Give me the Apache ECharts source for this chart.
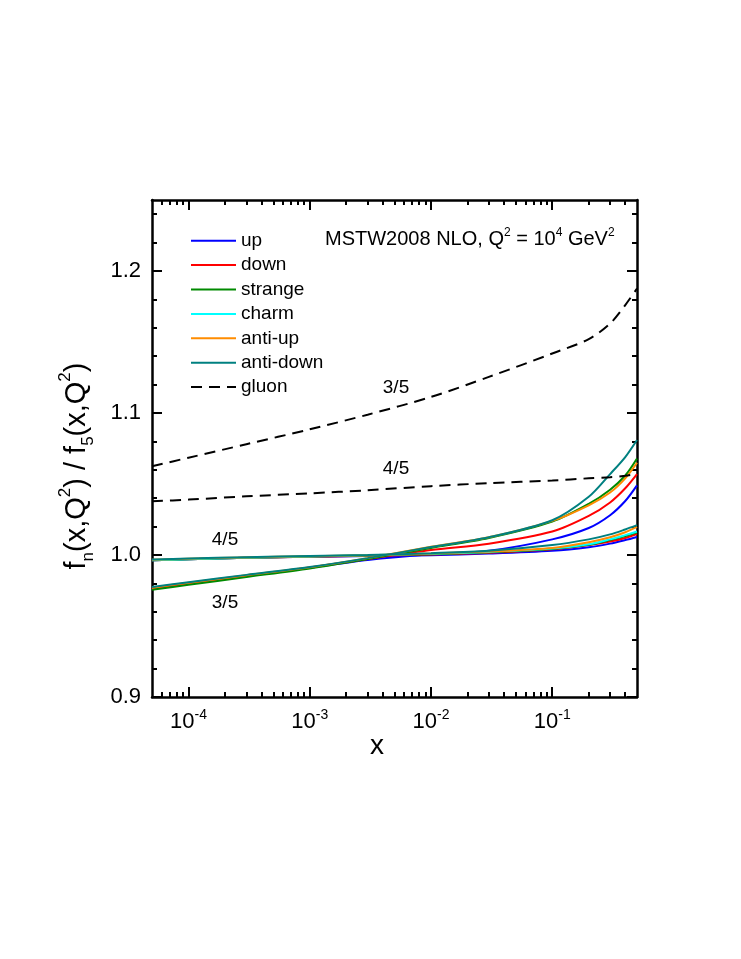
<!DOCTYPE html>
<html>
<head>
<meta charset="utf-8">
<script src="https://cdn.jsdelivr.net/npm/echarts@6/dist/echarts.min.js"></script>
<style>
  html, body { margin: 0; padding: 0; background: #fff; }
  #chart { width: 741px; height: 959px; }
</style>
</head>
<body>
<div id="chart"></div>
<script>
// x grid the curves were read at
const xValues = [5e-5, 1e-4, 3e-4, 1e-3, 3e-3, 1e-2, 3e-2, 0.1, 0.2, 0.3, 0.4, 0.5];

// ratio f_3 / f_5 (label "3/5")
const up35       = [0.9765, 0.9800, 0.9850, 0.9910, 0.9965, 1.0005, 1.0030, 1.0110, 1.0190, 1.0280, 1.0380, 1.0490];
const down35     = [0.9765, 0.9800, 0.9852, 0.9912, 0.9972, 1.0035, 1.0080, 1.0165, 1.0275, 1.0370, 1.0470, 1.0570];
const strange35  = [0.9755, 0.9790, 0.9845, 0.9905, 0.9972, 1.0050, 1.0120, 1.0235, 1.0360, 1.0460, 1.0560, 1.0680];
const antiUp35   = [0.9770, 0.9805, 0.9858, 0.9913, 0.9978, 1.0058, 1.0125, 1.0240, 1.0350, 1.0440, 1.0540, 1.0650];
const antiDown35 = [0.9775, 0.9808, 0.9860, 0.9915, 0.9978, 1.0056, 1.0125, 1.0245, 1.0410, 1.0570, 1.0690, 1.0810];
const gluon35    = [1.0625, 1.0685, 1.0780, 1.0885, 1.0988, 1.1113, 1.1254, 1.1419, 1.1520, 1.1630, 1.1760, 1.1877];

// ratio f_4 / f_5 (label "4/5")
const up45       = [0.9963, 0.9970, 0.9980, 0.9987, 0.9993, 0.9998, 1.0010, 1.0030, 1.0055, 1.0080, 1.0105, 1.0127];
const down45     = [0.9963, 0.9970, 0.9980, 0.9988, 0.9995, 1.0003, 1.0015, 1.0040, 1.0070, 1.0095, 1.0120, 1.0148];
const strange45  = [0.9963, 0.9970, 0.9980, 0.9989, 0.9997, 1.0006, 1.0020, 1.0043, 1.0072, 1.0105, 1.0133, 1.0160];
const charm45    = [0.9963, 0.9970, 0.9980, 0.9990, 0.9998, 1.0008, 1.0022, 1.0045, 1.0075, 1.0110, 1.0140, 1.0165];
const antiUp45   = [0.9966, 0.9973, 0.9983, 0.9992, 0.9999, 1.0010, 1.0025, 1.0050, 1.0090, 1.0125, 1.0160, 1.0198];
const antiDown45 = [0.9968, 0.9975, 0.9985, 0.9993, 1.0000, 1.0013, 1.0030, 1.0070, 1.0110, 1.0145, 1.0180, 1.0210];
const gluon45    = [1.0378, 1.0390, 1.0413, 1.0434, 1.0456, 1.0485, 1.0506, 1.0525, 1.0540, 1.0548, 1.0558, 1.0570];

const legendNames = ["up", "down", "strange", "charm", "anti-up", "anti-down", "gluon"];

// tick positions
const xMajorTicks = [1e-4, 1e-3, 1e-2, 1e-1];
const xMinorTicks = [6e-5, 7e-5, 8e-5, 9e-5,
  2e-4, 3e-4, 4e-4, 5e-4, 6e-4, 7e-4, 8e-4, 9e-4,
  2e-3, 3e-3, 4e-3, 5e-3, 6e-3, 7e-3, 8e-3, 9e-3,
  2e-2, 3e-2, 4e-2, 5e-2, 6e-2, 7e-2, 8e-2, 9e-2,
  0.2, 0.3, 0.4];
const yMajorTicks = [0.9, 1.0, 1.1, 1.2];
const yMinorTicks = [0.92, 0.94, 0.96, 0.98, 1.02, 1.04, 1.06, 1.08,
  1.12, 1.14, 1.16, 1.18, 1.22, 1.24];

const FONT = "'Liberation Sans', Arial, Helvetica, sans-serif";
const X_MIN = 5e-5, X_MAX = 0.5;
const Y_MIN = 0.9, Y_MAX = 1.25;

const chart = echarts.init(document.getElementById("chart"));

const toPairs = (arr) => xValues.map((x, i) => [x, arr[i]]);

const curves = [
  { name: "up", color: "#0000ff", data: [up35, up45] },
  { name: "down", color: "#ff0000", data: [down35, down45] },
  { name: "strange", color: "#008a00", data: [strange35, strange45] },
  { name: "charm", color: "#00ffff", data: [charm45] },
  { name: "anti-up", color: "#ff8c00", data: [antiUp35, antiUp45] },
  { name: "anti-down", color: "#008080", data: [antiDown35, antiDown45] },
];

const series = [];
curves.forEach((c) => {
  c.data.forEach((arr) => {
    series.push({
      name: c.name,
      type: "line",
      data: toPairs(arr),
      smooth: 0.3,
      symbol: "none",
      color: c.color,
      lineStyle: { color: c.color, width: 2 },
      emphasis: { disabled: true },
      silent: true,
    });
  });
});
[gluon35, gluon45].forEach((arr) => {
  series.push({
    name: "gluon",
    type: "line",
    data: toPairs(arr),
    smooth: 0.3,
    symbol: "none",
    color: "#000",
    lineStyle: { color: "#000", width: 2, type: [11, 7] },
    emphasis: { disabled: true },
    silent: true,
  });
});

const frameLine = { show: true, onZero: false, lineStyle: { color: "#000", width: 2.5 } };
const noLine = { show: false };

// helper axes that only carry tick marks (log10 space for x)
function xTickAxis(position, values, len, withLine) {
  return {
    type: "value",
    position: position,
    min: Math.log10(X_MIN),
    max: Math.log10(X_MAX),
    axisLine: withLine ? frameLine : noLine,
    axisTick: {
      show: true, inside: true, length: len,
      customValues: values.map((v) => Math.log10(v)),
      lineStyle: { color: "#000", width: 2 },
    },
    axisLabel: { show: false },
    splitLine: { show: false },
  };
}
function yTickAxis(position, values, len, withLine) {
  return {
    type: "value",
    position: position,
    min: Y_MIN,
    max: Y_MAX,
    axisLine: withLine ? frameLine : noLine,
    axisTick: {
      show: true, inside: true, length: len,
      customValues: values,
      lineStyle: { color: "#000", width: 2 },
    },
    axisLabel: { show: false },
    splitLine: { show: false },
  };
}

const plainText = (x, y, text) => ({
  type: "text", x: x, y: y, silent: true,
  style: { text: text, font: "19px " + FONT, fill: "#000", align: "center", verticalAlign: "middle" },
});

chart.setOption({
  animation: false,
  backgroundColor: "#fff",
  textStyle: { fontFamily: FONT, color: "#000" },
  grid: { left: 152, right: 104, top: 200, bottom: 262, containLabel: false },
  legend: {
    data: legendNames,
    orient: "vertical",
    left: 190,
    top: 231,
    padding: 0,
    itemWidth: 45,
    itemHeight: 14,
    itemGap: 5,
    selectedMode: false,
    itemStyle: { opacity: 0 },
    textStyle: { fontFamily: FONT, fontSize: 19, color: "#000", lineHeight: 19.4 },
  },
  xAxis: [
    {
      type: "log",
      logBase: 10,
      min: X_MIN,
      max: X_MAX,
      position: "bottom",
      axisLine: frameLine,
      axisTick: { show: false },
      minorTick: { show: false },
      splitLine: { show: false },
      axisLabel: {
        color: "#000",
        fontFamily: FONT,
        fontSize: 22,
        lineHeight: 28,
        margin: 11,
        formatter: (v) => {
          const e = Math.log10(v);
          const r = Math.round(e);
          if (Math.abs(e - r) > 0.01) return "";
          return "10{sup|" + r + "}";
        },
        rich: { sup: { fontSize: 14, verticalAlign: "top", fontFamily: FONT, color: "#000" } },
      },
    },
    xTickAxis("bottom", xMajorTicks, 10, false),
    xTickAxis("bottom", xMinorTicks, 5, false),
    xTickAxis("top", xMajorTicks, 10, true),
    xTickAxis("top", xMinorTicks, 5, false),
  ],
  yAxis: [
    {
      type: "value",
      min: Y_MIN,
      max: Y_MAX,
      interval: 0.1,
      position: "left",
      axisLine: frameLine,
      axisTick: { show: false },
      splitLine: { show: false },
      axisLabel: {
        color: "#000",
        fontFamily: FONT,
        fontSize: 22,
        margin: 11,
        formatter: (v) => (Math.abs(v - 1.25) < 1e-6 ? "" : v.toFixed(1)),
      },
    },
    yTickAxis("left", yMajorTicks, 10, false),
    yTickAxis("left", yMinorTicks, 5, false),
    yTickAxis("right", yMajorTicks, 10, true),
    yTickAxis("right", yMinorTicks, 5, false),
  ],
  series: series,
  graphic: [
    {
      type: "text",
      x: 325, y: 227,
      silent: true,
      style: {
        text: "MSTW2008 NLO, Q{sup|2} = 10{sup|4} GeV{sup|2}",
        font: "20px " + FONT,
        fill: "#000",
        lineHeight: 24,
        rich: { sup: { fontSize: 12, verticalAlign: "top", fontFamily: FONT, fill: "#000" } },
      },
    },
    {
      type: "text",
      x: 77, y: 466,
      rotation: Math.PI / 2,
      silent: true,
      style: {
        text: "f{sub|n}(x,Q{sup|2}) / f{sub|5}(x,Q{sup|2})",
        font: "29px " + FONT,
        fill: "#000",
        lineHeight: 40,
        align: "center",
        verticalAlign: "middle",
        rich: {
          sub: { fontSize: 17, verticalAlign: "bottom", fontFamily: FONT, fill: "#000" },
          sup: { fontSize: 17, verticalAlign: "top", fontFamily: FONT, fill: "#000" },
        },
      },
    },
    {
      type: "text", x: 377, y: 746, silent: true,
      style: { text: "x", font: "28px " + FONT, fill: "#000", align: "center", verticalAlign: "middle" },
    },
    plainText(225, 540, "4/5"),
    plainText(225, 603, "3/5"),
    plainText(396, 388, "3/5"),
    plainText(396, 469, "4/5"),
  ],
});
</script>
</body>
</html>
